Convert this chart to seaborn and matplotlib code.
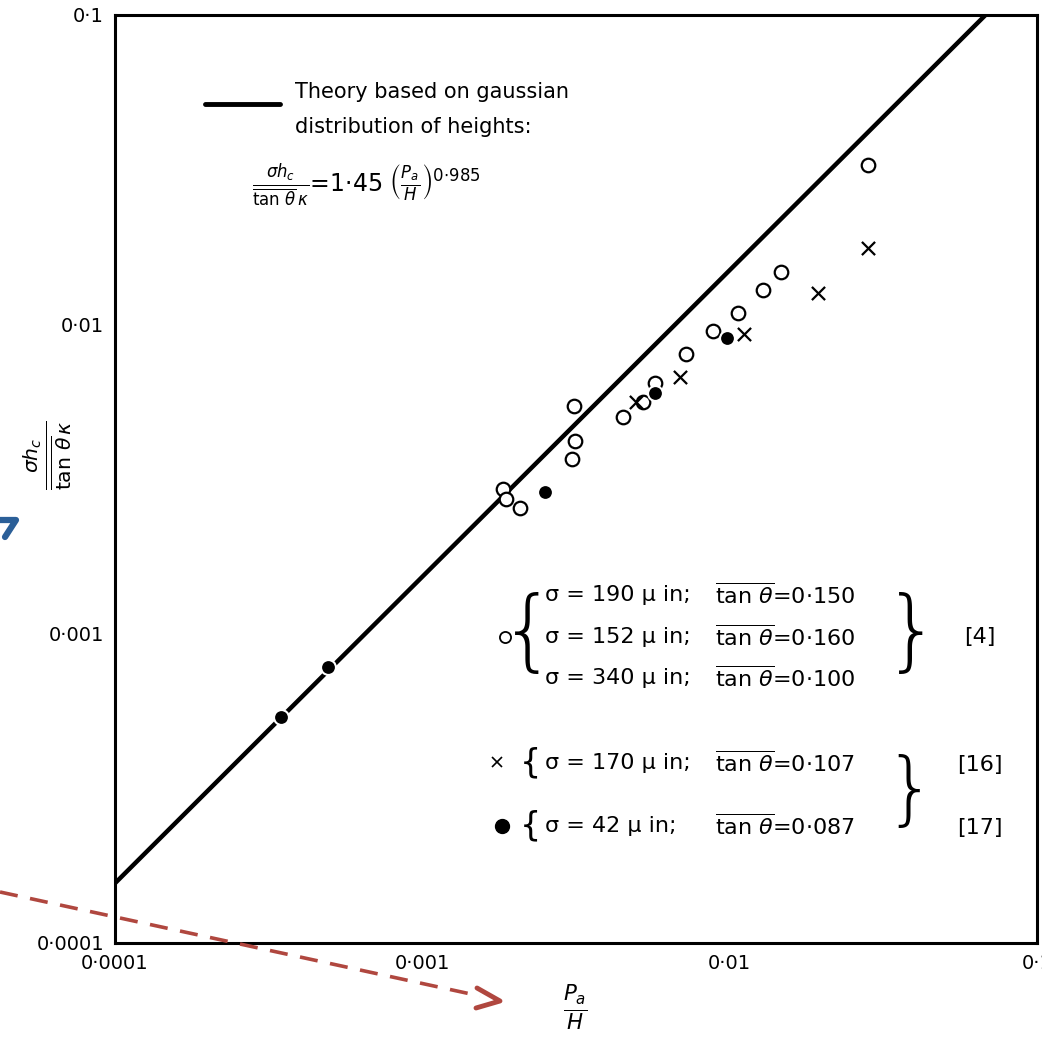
import matplotlib
matplotlib.use("Agg")
import matplotlib.pyplot as plt
import seaborn as sns
import pandas as pd
from matplotlib.lines import Line2D

# ---------------- data ----------------
theory_x = [0.0001, 0.068]
theory_y = [0.000156, 0.1]

open_x = [0.0282, 0.01466, 0.01288, 0.01062, 0.00881, 0.00719, 0.00570, 0.00523,
          0.00450, 0.00312, 0.00314, 0.00307, 0.00183, 0.00187, 0.00208]
open_y = [0.0327, 0.01472, 0.01288, 0.01086, 0.00949, 0.00800, 0.00644, 0.00560,
          0.00500, 0.00543, 0.00421, 0.00366, 0.00294, 0.00272, 0.00254]

cross_x = [0.0282, 0.01945, 0.0111, 0.00689, 0.00496]
cross_y = [0.0176, 0.01259, 0.00929, 0.00674, 0.00560]

filled_x = [0.00977, 0.00570, 0.00250, 0.000495, 0.000348]
filled_y = [0.00901, 0.00598, 0.00288, 0.000782, 0.000539]

tick_values = [0.0001, 0.001, 0.01, 0.1]
tick_labels = ["0·0001", "0·001", "0·01", "0·1"]

# ---------------- figure ----------------
sns.set_style("white")
plt.rcParams["font.family"] = ["DejaVu Sans"]
plt.rcParams["mathtext.fontset"] = "dejavusans"
plt.rcParams["text.color"] = "black"

W, H = 1042, 1040
fig = plt.figure(figsize=(W / 100, H / 100), dpi=100)
ax = fig.add_axes([115 / W, 1 - 943 / H, 922 / W, 928 / H])

def P(x, y):
    return (x / W, 1 - y / H)

df_th = pd.DataFrame({"x": theory_x, "y": theory_y})
sns.lineplot(data=df_th, x="x", y="y", ax=ax, color="black", lw=3.2, zorder=2)

df_o = pd.DataFrame({"x": open_x, "y": open_y})
df_c = pd.DataFrame({"x": cross_x, "y": cross_y})
df_f = pd.DataFrame({"x": filled_x, "y": filled_y})
sns.scatterplot(data=df_o, x="x", y="y", ax=ax, marker="o", s=95,
                facecolor="white", edgecolor="black", linewidth=1.6, zorder=3)
sns.scatterplot(data=df_c, x="x", y="y", ax=ax, marker="x", s=90,
                color="black", linewidth=1.6, zorder=3)
sns.scatterplot(data=df_f, x="x", y="y", ax=ax, marker="o", s=115,
                color="black", edgecolor="white", linewidth=1.5, zorder=3)

ax.set_xscale("log")
ax.set_yscale("log")
ax.set_xlim(0.0001, 0.1)
ax.set_ylim(0.0001, 0.1)
ax.set_xticks(tick_values)
ax.set_xticklabels(tick_labels)
ax.set_yticks(tick_values)
ax.set_yticklabels(tick_labels)
ax.tick_params(which="major", direction="in", length=12, width=1.6,
               labelsize=14, pad=8, colors="black")
ax.tick_params(which="minor", direction="in", length=6, width=1.2, colors="black")
ax.set_xlabel("")
ax.set_ylabel("")
for s in ax.spines.values():
    s.set_linewidth(2.2)
    s.set_color("black")

# axis titles
fig.text(*P(48, 455), r"$\frac{\sigma h_c}{\overline{\tan\,\theta}\,\kappa}$",
         rotation=90, ha="center", va="center", fontsize=21)
fig.text(*P(575, 1008), r"$\frac{P_a}{H}$", ha="center", va="center", fontsize=22)

# theory legend
fig.add_artist(Line2D([205 / W, 280 / W], [1 - 104 / H, 1 - 104 / H],
                      color="black", lw=3.5))
fig.text(*P(295, 92), "Theory based on gaussian", ha="left", va="center", fontsize=15)
fig.text(*P(295, 127), "distribution of heights:", ha="left", va="center", fontsize=15)
fig.text(*P(252, 186),
         r"$\frac{\sigma h_c}{\overline{\tan\,\theta}\,\kappa}$" + "=1·45 " +
         r"$\left(\frac{P_a}{H}\right)^{0{\cdot}985}$",
         ha="left", va="center", fontsize=17)

# data legend
fs = 16
tan = r"$\overline{\tan\,\theta}$"
rows = [(595, "σ = 190 μ in;", "=0·150"),
        (637, "σ = 152 μ in;", "=0·160"),
        (678, "σ = 340 μ in;", "=0·100"),
        (763, "σ = 170 μ in;", "=0·107"),
        (826, "σ = 42 μ in;", "=0·087")]
for y, a, b in rows:
    fig.text(*P(545, y), a, ha="left", va="center", fontsize=fs)
    fig.text(*P(715, y), tan + b, ha="left", va="center", fontsize=fs)

fig.add_artist(Line2D([505 / W], [1 - 637 / H], marker="o", color="black",
                      markerfacecolor="white", markersize=8, mew=1.3, lw=0))
fig.add_artist(Line2D([497 / W], [1 - 762 / H], marker="x", color="black",
                      markersize=7, mew=1.2, lw=0))
fig.add_artist(Line2D([502 / W], [1 - 826 / H], marker="o", color="black",
                      markersize=10, lw=0))
fig.text(*P(528, 635), "{", ha="center", va="center", fontsize=64,
         fontweight="light")
fig.text(*P(912, 635), "}", ha="center", va="center", fontsize=64,
         fontweight="light")
fig.text(*P(530, 763), "{", ha="center", va="center", fontsize=24)
fig.text(*P(530, 826), "{", ha="center", va="center", fontsize=24)
fig.text(*P(910, 793), "}", ha="center", va="center", fontsize=58,
         fontweight="light")
fig.text(*P(980, 637), "[4]", ha="center", va="center", fontsize=fs)
fig.text(*P(980, 765), "[16]", ha="center", va="center", fontsize=fs)
fig.text(*P(980, 828), "[17]", ha="center", va="center", fontsize=fs)

# overlay annotation arrows
fig.add_artist(Line2D([0, 480 / W], [1 - 892 / H, 1 - 996 / H], color="#b0473f",
                      lw=2.6, ls=(0, (5, 3.5))))
fig.add_artist(Line2D([477 / W, 500 / W, 476 / W],
                      [1 - 988 / H, 1 - 1001 / H, 1 - 1008 / H],
                      color="#b0473f", lw=3.5))
fig.add_artist(Line2D([0, 16 / W, 5 / W], [1 - 520 / H, 1 - 520 / H, 1 - 537 / H],
                      color="#2b5f98", lw=4.5))

fig.savefig("out.png", dpi=100)
